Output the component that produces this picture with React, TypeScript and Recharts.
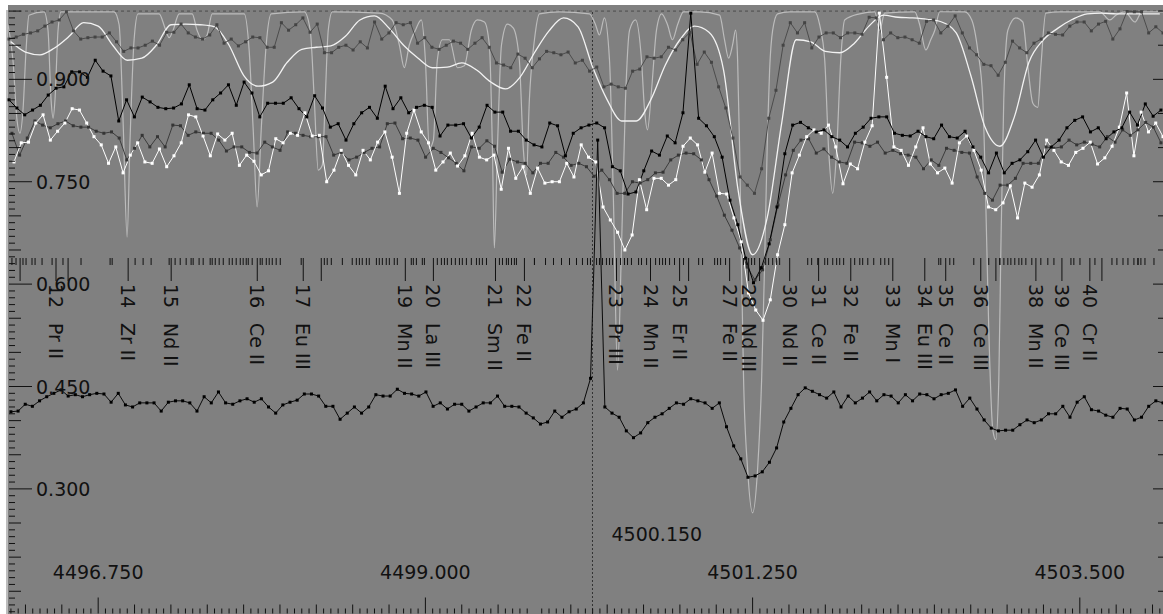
import { ComposedChart, Line, XAxis, YAxis, ReferenceLine } from 'recharts';

// plot window (wavelength in Angstrom, normalised flux)
const X_MIN = 4496.123;
const X_MAX = 4504.072;
const Y_MIN = 0.1167;
const Y_MAX = 1.0016;
const cursorWave = 4500.149;
const cursorLabel = '4500.150';

// bottom axis
const majorWaves = [4496.75, 4499.0, 4501.25, 4503.5];
const majorWaveLabels = ['4496.750', '4499.000', '4501.250', '4503.500'];
// left axis
const majorFlux = [0.3, 0.45, 0.6, 0.75, 0.9];
const majorFluxLabels = ['0.300', '0.450', '0.600', '0.750', '0.900'];

// observed spectrum, black (sampled from 4496.137 to 4504.058)
const aRange = [4496.137, 4504.058];
const aFlux = [
  0.870, 0.858, 0.848, 0.855, 0.862, 0.877, 0.887, 0.889, 0.911, 0.911,
  0.903, 0.928, 0.912, 0.905, 0.839, 0.870, 0.845, 0.874, 0.867, 0.859,
  0.857, 0.858, 0.864, 0.892, 0.857, 0.855, 0.870, 0.880, 0.892, 0.862,
  0.896, 0.880, 0.845, 0.865, 0.865, 0.865, 0.873, 0.857, 0.845, 0.876,
  0.858, 0.830, 0.835, 0.811, 0.835, 0.851, 0.859, 0.843, 0.890, 0.857,
  0.873, 0.851, 0.859, 0.862, 0.859, 0.817, 0.833, 0.833, 0.835, 0.814,
  0.830, 0.862, 0.852, 0.852, 0.824, 0.824, 0.811, 0.804, 0.801, 0.836,
  0.832, 0.788, 0.821, 0.829, 0.833, 0.836, 0.829, 0.772, 0.766, 0.732,
  0.735, 0.766, 0.795, 0.789, 0.817, 0.807, 0.851, 0.997, 0.843, 0.832,
  0.816, 0.786, 0.723, 0.687, 0.638, 0.602, 0.624, 0.659, 0.713, 0.791,
  0.833, 0.837, 0.829, 0.823, 0.826, 0.816, 0.811, 0.801, 0.821, 0.830,
  0.843, 0.845, 0.845, 0.821, 0.818, 0.817, 0.824, 0.816, 0.813, 0.833,
  0.816, 0.814, 0.824, 0.801, 0.786, 0.763, 0.792, 0.763, 0.777, 0.782,
  0.794, 0.811, 0.786, 0.801, 0.811, 0.829, 0.840, 0.845, 0.823, 0.829,
  0.813, 0.823, 0.829, 0.852, 0.833, 0.864, 0.846, 0.855,
];

// observed spectrum, dark grey upper
const bRange = [4496.137, 4504.072];
const bFlux = [
  0.959, 0.962, 0.966, 0.968, 0.971, 0.978, 0.984, 0.987, 0.999, 0.971,
  0.959, 0.961, 0.962, 0.962, 0.968, 0.955, 0.941, 0.946, 0.946, 0.950,
  0.956, 0.950, 0.969, 0.969, 0.981, 0.968, 0.962, 0.959, 0.965, 0.980,
  0.953, 0.959, 0.949, 0.955, 0.962, 0.961, 0.947, 0.947, 0.983, 0.972,
  0.980, 0.990, 0.969, 0.981, 0.939, 0.939, 0.947, 0.950, 0.943, 0.955,
  0.946, 0.984,
  0.959, 0.968, 0.983, 0.980, 0.983, 0.953, 0.961, 0.947, 0.944, 0.950,
  0.956, 0.953, 0.944, 0.953, 0.961, 0.947, 0.924, 0.921, 0.917, 0.937,
  0.931, 0.917, 0.930, 0.941, 0.939, 0.936, 0.940, 0.924, 0.928, 0.912,
  0.918, 0.889, 0.893, 0.889, 0.887, 0.912, 0.915, 0.933, 0.931, 0.933,
  0.947, 0.943, 0.958, 0.969, 0.922, 0.940, 0.925, 0.889, 0.858, 0.814,
  0.757, 0.745, 0.733, 0.769,
  0.843, 0.884, 0.950, 0.983, 0.968, 0.983, 0.946, 0.962, 0.968, 0.968,
  0.961, 0.968, 0.968, 0.966, 0.991, 0.990, 0.958, 0.968, 0.961, 0.962,
  0.958, 0.953, 0.985, 0.987, 0.968, 0.978, 0.993, 0.968, 0.946, 0.936,
  0.922, 0.920, 0.906, 0.925, 0.956, 0.946, 0.939, 0.953, 0.959, 0.968,
  0.966, 0.965, 0.978, 0.984, 0.984, 0.971, 0.981, 0.985, 0.959, 0.974,
  1.000, 0.999, 0.999, 0.968, 0.977, 0.968,
];

// observed spectrum, dark grey middle
const cRange = [4496.157, 4504.058];
const cFlux = [
  0.821, 0.789, 0.814, 0.839, 0.833, 0.829, 0.835, 0.839, 0.832, 0.830,
  0.830, 0.824, 0.821, 0.823, 0.814, 0.782, 0.799, 0.818, 0.801, 0.816,
  0.801, 0.833, 0.832, 0.818, 0.823, 0.821, 0.821, 0.811, 0.795, 0.801,
  0.801, 0.793, 0.792, 0.808, 0.801, 0.796, 0.823, 0.821, 0.818, 0.816,
  0.816, 0.816, 0.789, 0.793, 0.782, 0.786, 0.793, 0.799, 0.801, 0.835,
  0.836,
  0.813, 0.814, 0.811, 0.786, 0.799, 0.793, 0.785, 0.777, 0.766, 0.801,
  0.799, 0.810, 0.802, 0.764, 0.783, 0.779, 0.777, 0.763, 0.777, 0.777,
  0.793, 0.786, 0.774, 0.777, 0.772, 0.758, 0.767, 0.753, 0.733, 0.733,
  0.750, 0.748, 0.753, 0.763, 0.764, 0.782, 0.789, 0.792, 0.791,
  0.782, 0.753, 0.729, 0.701, 0.679, 0.653, 0.625, 0.606, 0.621, 0.665,
  0.716, 0.760, 0.796, 0.811, 0.813, 0.792,
  0.798, 0.786, 0.779, 0.777, 0.808, 0.807, 0.802, 0.808, 0.792, 0.796,
  0.791, 0.789, 0.786, 0.769, 0.782, 0.774, 0.799, 0.796, 0.793, 0.792,
  0.757, 0.733, 0.723, 0.745, 0.745, 0.755, 0.777, 0.777, 0.777, 0.801,
  0.799, 0.801, 0.811, 0.804, 0.808, 0.805, 0.801, 0.816, 0.808, 0.826,
  0.818, 0.826, 0.837, 0.830, 0.807,
];

// observed spectrum, white with points
const dRange = [4496.171, 4504.072];
const dFlux = [
  0.779, 0.807, 0.808, 0.836, 0.848, 0.811, 0.824, 0.836, 0.857, 0.855,
  0.836, 0.816, 0.804, 0.777, 0.801, 0.763, 0.789, 0.807, 0.779, 0.777,
  0.798, 0.772, 0.788, 0.807, 0.848, 0.845, 0.817, 0.788, 0.820, 0.811,
  0.821, 0.774, 0.789, 0.780, 0.760, 0.766, 0.813, 0.807, 0.821, 0.818,
  0.851, 0.817, 0.818, 0.750, 0.767, 0.796, 0.774, 0.760, 0.796, 0.782,
  0.808, 0.823, 0.786, 0.733, 0.821, 0.855, 0.823, 0.807, 0.767, 0.779,
  0.792, 0.773, 0.788, 0.821, 0.786, 0.782, 0.789, 0.739, 0.799, 0.755,
  0.772, 0.733, 0.770, 0.748, 0.750, 0.750, 0.777, 0.757, 0.804, 0.786,
  0.779, 0.713, 0.694, 0.676, 0.650, 0.672, 0.753, 0.709, 0.755, 0.755,
  0.745, 0.753, 0.802, 0.814, 0.804, 0.764, 0.792, 0.733, 0.732, 0.697,
  0.662, 0.587, 0.562, 0.547, 0.577, 0.643, 0.687, 0.763, 0.789, 0.816,
  0.826, 0.821, 0.833, 0.801, 0.747, 0.776, 0.769, 0.808, 0.832, 0.997,
  0.903, 0.801, 0.796, 0.774, 0.801, 0.829, 0.776, 0.763, 0.770, 0.748,
  0.807, 0.817, 0.796, 0.767, 0.713, 0.709, 0.719, 0.744, 0.697, 0.748,
  0.742, 0.760, 0.811, 0.796, 0.779, 0.774, 0.793, 0.799, 0.808, 0.776,
  0.785, 0.802, 0.830, 0.880, 0.788, 0.852, 0.823, 0.836, 0.816,
];

// smooth white profile, every 0.1 A from 4496.15
const eRange = [4496.15, 4504.05];
const eFlux = [
  0.955, 0.940, 0.936, 0.946, 0.963, 0.983, 0.978, 0.950, 0.928, 0.931,
  0.950, 0.980, 0.981, 0.980, 0.977, 0.950, 0.906, 0.890, 0.896, 0.925,
  0.944, 0.947, 0.949, 0.963, 0.987, 0.993, 0.975, 0.950, 0.931, 0.917,
  0.918, 0.924, 0.914, 0.896, 0.886, 0.903, 0.939, 0.971, 0.990, 0.977,
  0.918, 0.870, 0.839, 0.839, 0.870, 0.921, 0.958, 0.978, 0.969, 0.914,
  0.738, 0.643, 0.697, 0.836, 0.958, 0.955, 0.941, 0.939, 0.953, 0.978,
  0.994, 0.991, 0.990, 0.988, 0.984, 0.968, 0.906, 0.829, 0.802, 0.845,
  0.925, 0.958, 0.975, 0.988, 0.996, 0.997, 0.996, 0.996, 0.996, 0.996,
];

// synthetic spectrum, light grey
const fWave = [
  4496.130, 4496.164, 4496.192, 4496.212, 4496.233, 4496.254, 4496.274, 4496.378, 4496.405, 4496.426,
  4496.440, 4496.453, 4496.474, 4496.495, 4496.859, 4496.894, 4496.921, 4496.949, 4496.969, 4496.997,
  4497.024, 4497.169, 4497.210, 4497.238, 4497.265, 4497.307, 4497.396, 4497.430, 4497.465, 4497.499,
  4497.534, 4497.754, 4497.788, 4497.816, 4497.843, 4497.871, 4497.905, 4497.940, 4498.167, 4498.208,
  4498.236, 4498.263, 4498.291, 4498.311, 4498.332, 4498.360, 4498.683, 4498.772, 4498.821, 4498.855,
  4498.889, 4498.931, 4498.972, 4499.000, 4499.027, 4499.055, 4499.082, 4499.117, 4499.165, 4499.220,
  4499.268, 4499.316, 4499.357, 4499.406, 4499.440, 4499.461, 4499.474, 4499.495, 4499.523, 4499.564,
  4499.605, 4499.646, 4499.674, 4499.695, 4499.715, 4499.750, 4499.784, 4499.922, 4500.128, 4500.170,
  4500.197, 4500.231, 4500.266, 4500.293, 4500.321, 4500.348, 4500.376, 4500.404, 4500.445, 4500.486,
  4500.507, 4500.527, 4500.555, 4500.589, 4500.624, 4500.665, 4500.699, 4500.734, 4500.775, 4500.885,
  4501.023, 4501.057, 4501.085, 4501.112, 4501.133, 4501.147, 4501.161, 4501.174, 4501.188, 4501.216,
  4501.250, 4501.284, 4501.312, 4501.333, 4501.353, 4501.367, 4501.388, 4501.422, 4501.505, 4501.677,
  4501.711, 4501.746, 4501.773, 4501.801, 4501.828, 4501.856, 4501.883, 4501.986, 4502.090, 4502.124,
  4502.158, 4502.365, 4502.399, 4502.441, 4502.475, 4502.503, 4502.537, 4502.709, 4502.757, 4502.798,
  4502.833, 4502.853, 4502.874, 4502.902, 4502.922, 4502.943, 4502.957, 4502.977, 4503.005, 4503.060,
  4503.108, 4503.143, 4503.177, 4503.211, 4503.232, 4503.266, 4503.363, 4503.638, 4503.707, 4503.748,
  4503.810, 4503.879, 4503.927, 4504.072,
];
const fFlux = [
  0.980, 0.928, 0.840, 0.821, 0.855, 0.943, 0.994, 0.999, 0.972, 0.870,
  0.843, 0.870, 0.972, 0.999, 0.999, 0.980, 0.840, 0.669, 0.811, 0.958,
  0.996, 0.996, 0.975, 0.961, 0.972, 0.996, 0.996, 0.972, 0.958, 0.965,
  0.996, 0.996, 0.943, 0.826, 0.713, 0.826, 0.950, 0.996, 0.999, 0.972,
  0.870, 0.767, 0.774, 0.870, 0.972, 0.999, 0.997, 0.987, 0.950, 0.917,
  0.950, 0.972, 0.987, 0.928, 0.799, 0.811, 0.928, 0.958, 0.958, 0.917,
  0.920, 0.972, 0.987, 0.984, 0.950, 0.796, 0.653, 0.796, 0.950, 0.981,
  0.975, 0.928, 0.796, 0.760, 0.870, 0.958, 0.996, 0.999, 0.996, 0.980,
  0.965, 0.990, 0.928, 0.723, 0.474, 0.650, 0.870, 0.972, 0.987, 0.928,
  0.855, 0.826, 0.884, 0.972, 0.996, 0.980, 0.958, 0.980, 0.999, 0.999,
  0.994, 0.958, 0.931, 0.950, 0.972, 0.928, 0.796, 0.621, 0.460, 0.328,
  0.265, 0.328, 0.460, 0.635, 0.826, 0.914, 0.972, 0.996, 0.999, 0.999,
  0.980, 0.928, 0.796, 0.733, 0.796, 0.928, 0.987, 0.996, 0.999, 0.972,
  0.997, 0.999, 0.980, 0.943, 0.958, 0.972, 0.999, 0.999, 0.987, 0.943,
  0.870, 0.723, 0.533, 0.386, 0.372, 0.460, 0.650, 0.870, 0.972, 0.990,
  0.984, 0.918, 0.865, 0.859, 0.918, 0.997, 0.999, 0.999, 0.987, 0.994,
  0.999, 0.984, 0.999, 0.999,
];

// lower observed spectrum, black
const gRange = [4496.150, 4504.072];
const gFlux = [
  0.413, 0.414, 0.424, 0.421, 0.429, 0.435, 0.440, 0.445, 0.436, 0.438,
  0.435, 0.438, 0.440, 0.439, 0.427, 0.440, 0.423, 0.420, 0.426, 0.426,
  0.426, 0.414, 0.427, 0.429, 0.429, 0.426, 0.414, 0.435, 0.426, 0.442,
  0.426, 0.424, 0.429, 0.432, 0.427, 0.432, 0.420, 0.411, 0.423, 0.427,
  0.430, 0.439, 0.439, 0.436, 0.421, 0.421, 0.402, 0.411, 0.420, 0.411,
  0.420, 0.438,
  0.436, 0.436, 0.446, 0.440, 0.439, 0.436, 0.442, 0.421, 0.426, 0.417,
  0.424, 0.424, 0.414, 0.420, 0.426, 0.426, 0.436, 0.421, 0.421, 0.420,
  0.411, 0.404, 0.395, 0.398, 0.414, 0.405, 0.413, 0.417, 0.426, 0.462,
  0.811,
  0.420, 0.411, 0.405, 0.385, 0.375, 0.382, 0.397, 0.405, 0.410, 0.418,
  0.426, 0.424, 0.432, 0.429, 0.426, 0.418, 0.426, 0.391, 0.363, 0.344,
  0.317, 0.319, 0.325, 0.339, 0.360, 0.398, 0.418, 0.438, 0.448, 0.443,
  0.438, 0.433, 0.442, 0.420, 0.436, 0.426, 0.433, 0.442, 0.429, 0.438,
  0.436, 0.426, 0.438, 0.429, 0.439, 0.438, 0.432, 0.438, 0.440, 0.445,
  0.421, 0.433, 0.417,
  0.401, 0.389, 0.385, 0.386, 0.386, 0.394, 0.401, 0.397, 0.401, 0.410,
  0.410, 0.421, 0.405, 0.427, 0.435, 0.416, 0.414, 0.408, 0.405, 0.418,
  0.417, 0.401, 0.405, 0.421, 0.429, 0.426,
];

// line list: unlabelled markers
const shortLines = [
  4496.157, 4496.185, 4496.233, 4496.254, 4496.295, 4496.316, 4496.364, 4496.433, 4496.508, 4496.632,
  4496.832, 4496.846, 4497.004, 4497.059, 4497.114, 4497.238, 4497.279, 4497.314, 4497.355, 4497.389,
  4497.403, 4497.444, 4497.472, 4497.520, 4497.534, 4497.555, 4497.582, 4497.610, 4497.651, 4497.672,
  4497.699, 4497.727, 4497.747, 4497.768, 4497.782, 4497.809, 4497.864, 4497.878, 4497.906, 4497.926,
  4497.947, 4497.974, 4498.002, 4498.146, 4498.305, 4498.325, 4498.353, 4498.429, 4498.497, 4498.525,
  4498.546, 4498.566, 4498.594, 4498.614, 4498.663, 4498.683, 4498.704, 4498.731, 4498.752, 4498.786,
  4498.807, 4498.903, 4498.917, 4498.938, 4498.979, 4498.993, 4499.082, 4499.110, 4499.131, 4499.151,
  4499.179, 4499.206, 4499.234, 4499.254, 4499.282, 4499.316, 4499.351, 4499.371, 4499.392, 4499.420,
  4499.509, 4499.530, 4499.557, 4499.571, 4499.592, 4499.612, 4499.626, 4499.750, 4499.826, 4499.881,
  4499.936, 4499.991, 4500.039, 4500.080, 4500.115, 4500.135, 4500.177, 4500.197, 4500.218, 4500.245,
  4500.266, 4500.287, 4500.342, 4500.369, 4500.390, 4500.417, 4500.466, 4500.486, 4500.521, 4500.583,
  4500.610, 4500.631, 4500.651, 4500.679, 4500.713, 4500.775, 4500.879, 4500.906, 4500.989, 4501.009,
  4501.030, 4501.064, 4501.188, 4501.209, 4501.243, 4501.264, 4501.340, 4501.360, 4501.388, 4501.415,
  4501.436, 4501.629, 4501.656, 4501.698, 4501.746, 4501.766, 4501.801, 4501.828, 4501.849, 4501.876,
  4501.952, 4501.987, 4502.007, 4502.042, 4502.083, 4502.131, 4502.159, 4502.186, 4502.530, 4502.544,
  4502.606, 4502.633, 4502.771, 4502.874, 4502.950, 4502.978, 4503.005, 4503.026, 4503.053, 4503.081,
  4503.101, 4503.129, 4503.170, 4503.232, 4503.280, 4503.322, 4503.439, 4503.459, 4503.501, 4503.604,
  4503.721, 4503.755, 4503.797, 4503.831, 4503.872, 4503.900, 4503.920, 4503.948, 4504.010,
];

// line list: numbered markers
const idWaves = [
  4496.213, 4496.460, 4496.543, 4496.956, 4497.252, 4497.844, 4498.160, 4498.284, 4498.862, 4499.055,
  4499.482, 4499.681, 4500.314, 4500.548, 4500.748, 4500.810, 4501.092, 4501.223, 4501.298, 4501.505,
  4501.704, 4501.925, 4502.214, 4502.434, 4502.578, 4502.819, 4502.923, 4503.198, 4503.377, 4503.569,
  4503.652,
];
const idNumbers = [
  '11', '12', '13', '14', '15', '16', '17', '18', '19', '20',
  '21', '22', '23', '24', '25', '26', '27', '28', '29', '30',
  '31', '32', '33', '34', '35', '36', '37', '38', '39', '40',
  '41',
];
const idSpecies = [
  '', 'Pr II', '', 'Zr II', 'Nd II', 'Ce II', 'Eu III', '', 'Mn II', 'La III',
  'Sm II', 'Fe II', 'Pr III', 'Mn II', 'Er II', '', 'Fe II', 'Nd III', '', 'Nd II',
  'Ce II', 'Fe II', 'Mn I', 'Eu III', 'Ce II', 'Ce III', '', 'Mn II', 'Ce III', 'Cr II',
  '',
];

const spread = (range: number[], vals: number[]) =>
  vals.map((f, i) => ({ w: range[0] + ((range[1] - range[0]) * i) / (vals.length - 1), f }));

const aData = spread(aRange, aFlux);
const bData = spread(bRange, bFlux);
const cData = spread(cRange, cFlux);
const dData = spread(dRange, dFlux);
const eData = spread(eRange, eFlux);
const gData = spread(gRange, gFlux);
const fData = fWave.map((w, i) => ({ w, f: fFlux[i] }));

const scaleTicks = Array.from({ length: 159 }, (_, i) => +(4496.15 + i * 0.05).toFixed(2));
// one bottom axis carries both the wavelength scale and the line-list markers
const xTicks = [...scaleTicks, ...shortLines, ...idWaves];
const yTicks = Array.from({ length: 89 }, (_, i) => +(0.12 + i * 0.01).toFixed(2));

const FONT = 'DejaVu Sans';
const INK = '#111';
const BOTTOM = 613.5;
const RIGHT = 1163;
const FS = 19;

const near = (a: number, b: number) => Math.abs(a - b) < 1e-6;
const isStep = (v: number, step: number) => Math.abs(v / step - Math.round(v / step)) < 1e-4;

const renderMarker = (x: number, v: number, key: string) => {
  const k = idWaves.findIndex((w) => near(w, v));
  if (k < 0) {
    return <line key={key} x1={x} x2={x} y1={258} y2={265} stroke={INK} />;
  }
  return (
    <g key={key}>
      <line x1={x} x2={x} y1={258} y2={281} stroke={INK} />
      {idSpecies[k] && (
        <g transform={`translate(${x},284) rotate(90)`}>
          <text x={0} y={0} dominantBaseline="central" fontFamily={FONT} fontSize={FS} fill={INK}>
            {idNumbers[k]}
          </text>
          <text x={39} y={0} dominantBaseline="central" fontFamily={FONT} fontSize={FS} fill={INK}>
            {idSpecies[k]}
          </text>
        </g>
      )}
    </g>
  );
};

const renderXTick = (props: any) => {
  const { x, payload, index } = props;
  const v = payload.value;
  const key = `xt${index}`;
  if (shortLines.some((w) => near(w, v)) || idWaves.some((w) => near(w, v))) {
    return renderMarker(x, v, key);
  }
  const mi = majorWaves.findIndex((m) => near(m, v));
  if (mi >= 0) {
    return (
      <g key={key}>
        <line x1={x} x2={x} y1={BOTTOM} y2={BOTTOM - 16} stroke={INK} />
        <text x={x} y={572} textAnchor="middle" dominantBaseline="central" fontFamily={FONT} fontSize={FS} fill={INK}>
          {majorWaveLabels[mi]}
        </text>
      </g>
    );
  }
  const len = isStep(v - 4496.75, 0.25) ? 9 : 5;
  return <line key={key} x1={x} x2={x} y1={BOTTOM} y2={BOTTOM - len} stroke={INK} />;
};

const renderYTick = (props: any) => {
  const { y, payload, index } = props;
  const v = payload.value;
  const mi = majorFlux.findIndex((m) => near(m, v));
  if (mi >= 0) {
    return (
      <g key={`yt${index}`}>
        <line x1={9} x2={32} y1={y} y2={y} stroke={INK} />
        <line x1={RIGHT - 10} x2={RIGHT} y1={y} y2={y} stroke={INK} />
        <text x={36} y={y} dominantBaseline="central" fontFamily={FONT} fontSize={FS} fill={INK}>
          {majorFluxLabels[mi]}
        </text>
      </g>
    );
  }
  const mid = isStep(v, 0.05);
  return (
    <g key={`yt${index}`}>
      <line x1={9} x2={mid ? 21 : 15} y1={y} y2={y} stroke={INK} />
      {mid && <line x1={RIGHT - 5} x2={RIGHT} y1={y} y2={y} stroke={INK} />}
    </g>
  );
};

const squareDot = (color: string) => (p: any) => {
  if (p.cx == null || p.cy == null) return <g key={`d${p.index}`} />;
  return <rect key={`d${p.index}`} x={p.cx - 1.5} y={p.cy - 1.5} width={3} height={3} fill={color} />;
};

export default function App() {
  return (
    <div style={{ position: 'absolute', left: 0, top: 0, width: 1163, height: 614, background: '#fff', overflow: 'hidden' }}>
      <div style={{ position: 'absolute', left: 8, top: 5, width: 1155, height: 609, background: '#808080' }} />
      <div style={{ position: 'absolute', left: 0, top: 0 }}>
        <ComposedChart width={1163} height={614} margin={{ top: 10, right: 0, bottom: 0, left: 7 }}>
          <XAxis
            dataKey="w"
            type="number"
            domain={[X_MIN, X_MAX]}
            allowDataOverflow
            ticks={xTicks}
            interval={0}
            tick={renderXTick}
            tickLine={false}
            axisLine={false}
            height={1}
            mirror
          />
          <YAxis
            type="number"
            domain={[Y_MIN, Y_MAX]}
            allowDataOverflow
            ticks={yTicks}
            interval={0}
            tick={renderYTick}
            tickLine={false}
            axisLine={{ stroke: '#bdbdbd', strokeWidth: 2 }}
            width={1}
            mirror
          />
          <ReferenceLine y={1} stroke="#4a4a4a" strokeDasharray="3 3" />
          <ReferenceLine
            x={cursorWave}
            stroke="#333"
            strokeDasharray="2 2"
            label={(p: any) => (
              <text x={p.viewBox.x + 19} y={534} dominantBaseline="central" fontFamily={FONT} fontSize={FS} fill={INK}>
                {cursorLabel}
              </text>
            )}
          />
          <Line data={fData} dataKey="f" name="synthetic" type="monotone" stroke="#bcbcbc" strokeWidth={1.2} dot={false} isAnimationActive={false} />
          <Line data={eData} dataKey="f" name="smooth" type="monotone" stroke="#f2f2f2" strokeWidth={1.3} dot={false} isAnimationActive={false} />
          <Line data={bData} dataKey="f" name="upper" type="linear" stroke="#4c4c4c" strokeWidth={1} dot={squareDot('#444')} isAnimationActive={false} />
          <Line data={cData} dataKey="f" name="middle" type="linear" stroke="#3c3c3c" strokeWidth={1} dot={squareDot('#353535')} isAnimationActive={false} />
          <Line data={dData} dataKey="f" name="white" type="linear" stroke="#ffffff" strokeWidth={1} dot={squareDot('#ffffff')} isAnimationActive={false} />
          <Line data={aData} dataKey="f" name="black" type="linear" stroke="#000" strokeWidth={1} dot={squareDot('#000')} isAnimationActive={false} />
          <Line data={gData} dataKey="f" name="lower" type="linear" stroke="#0a0a0a" strokeWidth={1} dot={squareDot('#000')} isAnimationActive={false} />
        </ComposedChart>
      </div>
    </div>
  );
}
